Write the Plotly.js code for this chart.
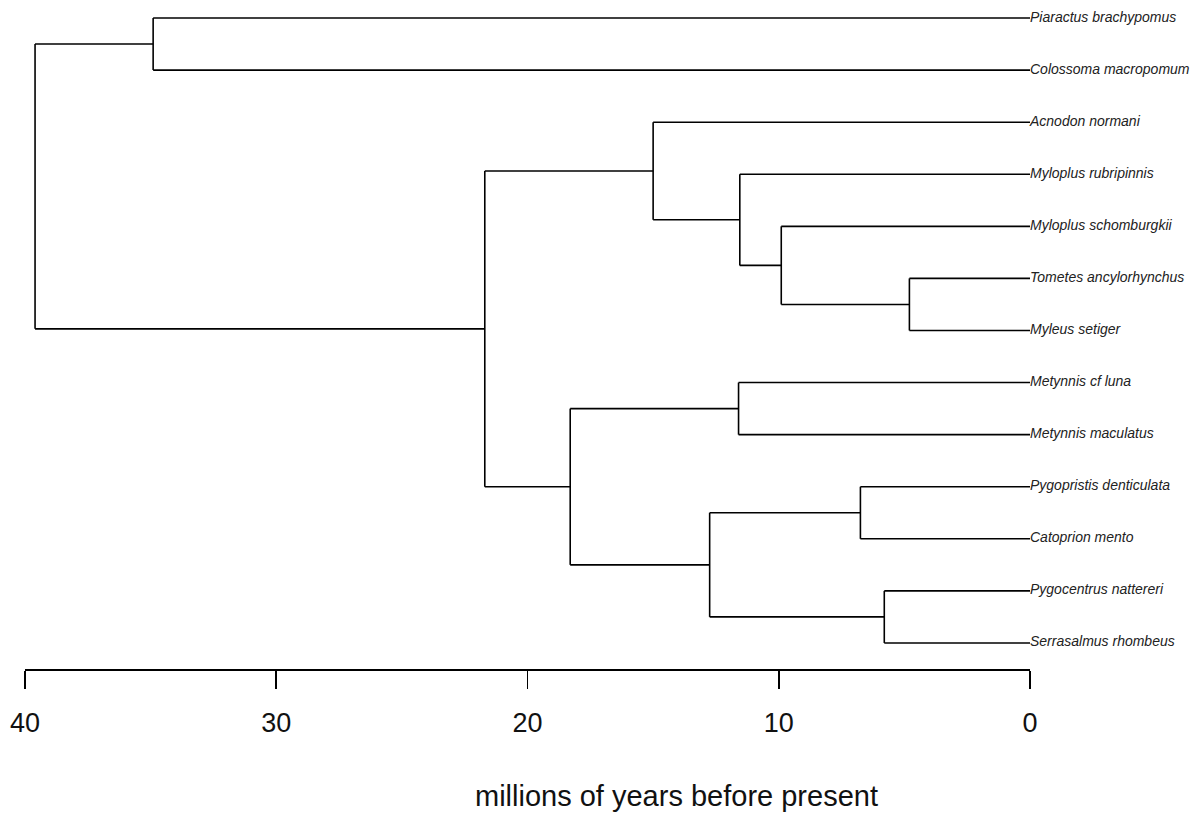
<!DOCTYPE html>
<html>
<head>
<meta charset="utf-8">
<script src="https://cdn.plot.ly/plotly-3.0.1.min.js"></script>
<style>html,body{margin:0;padding:0;background:#fff;}#chart{width:1193px;height:814px;}</style>
</head>
<body>
<div id="chart"></div>
<script>
// Tip (species) labels, top to bottom
const tipNames = [
  "Piaractus brachypomus",
  "Colossoma macropomum",
  "Acnodon normani",
  "Myloplus rubripinnis",
  "Myloplus schomburgkii",
  "Tometes ancylorhynchus",
  "Myleus setiger",
  "Metynnis cf luna",
  "Metynnis maculatus",
  "Pygopristis denticulata",
  "Catoprion mento",
  "Pygocentrus nattereri",
  "Serrasalmus rhombeus"
];
// Internal node ages (millions of years before present)
const nodeAges = [39.6, 34.9, 21.7, 15.0, 11.55, 9.9, 4.8, 18.3, 11.6, 12.75, 6.75, 5.8];
// Children of each internal node ("t#" = tip index, "n#" = node index)
const childA = ["n1", "t0", "n3", "t2", "t3", "t4", "t5", "n8", "t7", "n10", "t9", "t11"];
const childB = ["n2", "t1", "n7", "n4", "n5", "n6", "t6", "n9", "t8", "n11", "t10", "t12"];
// Axis ticks
const tickValues = [40, 30, 20, 10, 0];
const tickLabels = ["40", "30", "20", "10", "0"];
const axisTitle = "millions of years before present";

function ageOf(ref) {
  return ref[0] === "t" ? 0 : nodeAges[+ref.slice(1)];
}
function yOf(ref) {
  const i = +ref.slice(1);
  if (ref[0] === "t") return i + 1;
  return (yOf(childA[i]) + yOf(childB[i])) / 2;
}

const xs = [], ys = [];
for (let i = 0; i < nodeAges.length; i++) {
  const a = nodeAges[i];
  const ya = yOf(childA[i]), yb = yOf(childB[i]);
  xs.push(a, a, null); ys.push(ya, yb, null);
  xs.push(a, ageOf(childA[i]), null); ys.push(ya, ya, null);
  xs.push(a, ageOf(childB[i]), null); ys.push(yb, yb, null);
}

const branches = {
  x: xs, y: ys, type: "scatter", mode: "lines",
  line: {color: "#000", width: 1.6},
  hoverinfo: "skip", showlegend: false, cliponaxis: false
};
const labels = {
  x: tipNames.map(() => 0),
  y: tipNames.map((_, i) => i + 1),
  text: tipNames.map(n => "<i>" + n + "</i>"),
  type: "scatter", mode: "text", textposition: "middle right",
  textfont: {family: "Liberation Sans, Arial, sans-serif", size: 14, color: "#222"},
  hoverinfo: "skip", showlegend: false, cliponaxis: false
};

const font = "Liberation Sans, Arial, sans-serif";
const layout = {
  width: 1193, height: 814,
  margin: {l: 25, r: 163, t: 5, b: 145},
  paper_bgcolor: "#fff", plot_bgcolor: "#fff",
  showlegend: false,
  xaxis: {
    range: [40, 0], showgrid: false, zeroline: false,
    showline: true, linecolor: "#000", linewidth: 1.6,
    ticks: "outside", ticklen: 18, tickwidth: 1.6, tickcolor: "#000",
    tickvals: tickValues, ticktext: tickLabels,
    ticklabelstandoff: 11,
    tickfont: {family: font, size: 27, color: "#111"},
    fixedrange: true
  },
  yaxis: {
    range: [13.5, 0.75], visible: false, showgrid: false, zeroline: false, fixedrange: true
  },
  annotations: [{
    text: axisTitle, xref: "paper", yref: "paper",
    x: 0.648, y: -0.192, xanchor: "center", yanchor: "middle",
    showarrow: false, font: {family: font, size: 29, color: "#111"}
  }]
};

Plotly.newPlot("chart", [branches, labels], layout, {displayModeBar: false, staticPlot: true});
</script>
</body>
</html>
